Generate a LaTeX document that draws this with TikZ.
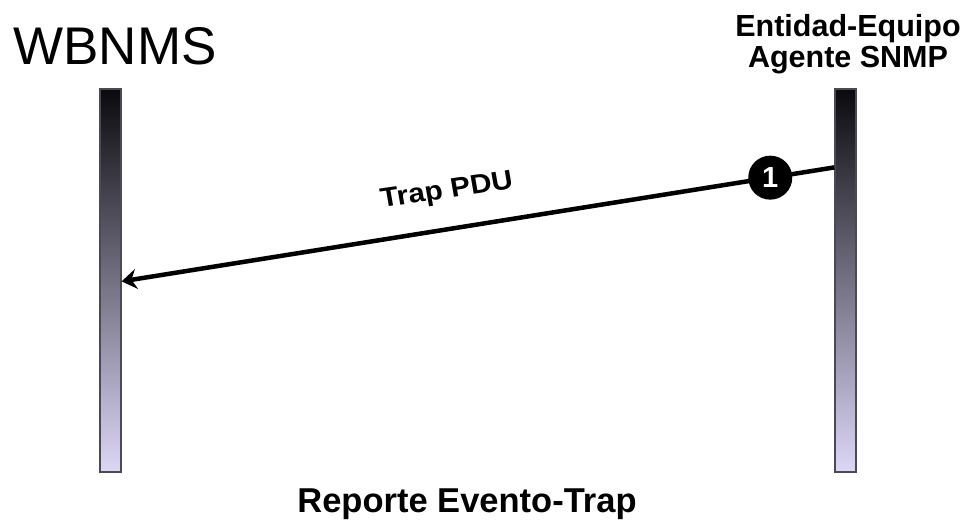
\documentclass[tikz,border=0pt]{standalone}
\usepackage{fontspec}
\setmainfont{Liberation Sans}
\usetikzlibrary{arrows.meta,calc}
\definecolor{bartop}{HTML}{0A0A0E}
\definecolor{barmid}{HTML}{5E5C78}
\definecolor{barbot}{HTML}{DDD7F7}
\definecolor{barline}{HTML}{4A4A52}
\begin{document}
\begin{tikzpicture}[x=1pt,y=-1pt,
  lifeline/.style={rectangle, draw=barline, line width=1.2pt,
    minimum width=21pt, minimum height=383pt, inner sep=0pt,
    top color=bartop, middle color=barmid, bottom color=barbot},
  msg/.style={line width=4.5pt, black,
    -{Stealth[length=15pt,width=20pt,inset=5pt]}},
  numdot/.style={circle, fill=black, minimum size=44pt, inner sep=0pt,
    text=white, font=\bfseries\fontsize{29}{30}\selectfont},
  actor/.style={font=\fontsize{53}{56}\selectfont},
  actorb/.style={font=\bfseries\fontsize{30.5}{31}\selectfont, align=center},
  msglabel/.style={font=\bfseries\fontsize{27}{28}\selectfont, xscale=1.1},
  caption/.style={font=\bfseries\fontsize{34.5}{36}\selectfont}]
  % canvas
  \path[use as bounding box, fill=white] (0,0) rectangle (969,526);

  % lifelines
  \node[lifeline] (wb) at (110.5,280.5) {};
  \node[lifeline] (ag) at (845.5,280.5) {};

  % participant names
  \node[actor, anchor=base] (wbname) at (115,65) {WBNMS};
  \node[actorb, anchor=base] (agname1) at (848,37) {Entidad-Equipo};
  \node[actorb, anchor=base] (agname2) at (848,68) {Agente SNMP};

  % message end points on the lifelines
  \path (ag.north west) ++(0,79) coordinate (trapsrc);
  \path (wb.north east) ++(0,193) coordinate (trapdst);

  % trap message
  \draw[msg] (trapsrc) -- (trapdst);
  \node[numdot] (step1) at ($(trapsrc)!0.09!(trapdst)$) {1};
  \node[msglabel, rotate=9.05] (traplbl) at (447,192) {Trap PDU};

  % caption
  \node[caption, anchor=base] (cap) at (467,512) {Reporte Evento-Trap};
\end{tikzpicture}
\end{document}
